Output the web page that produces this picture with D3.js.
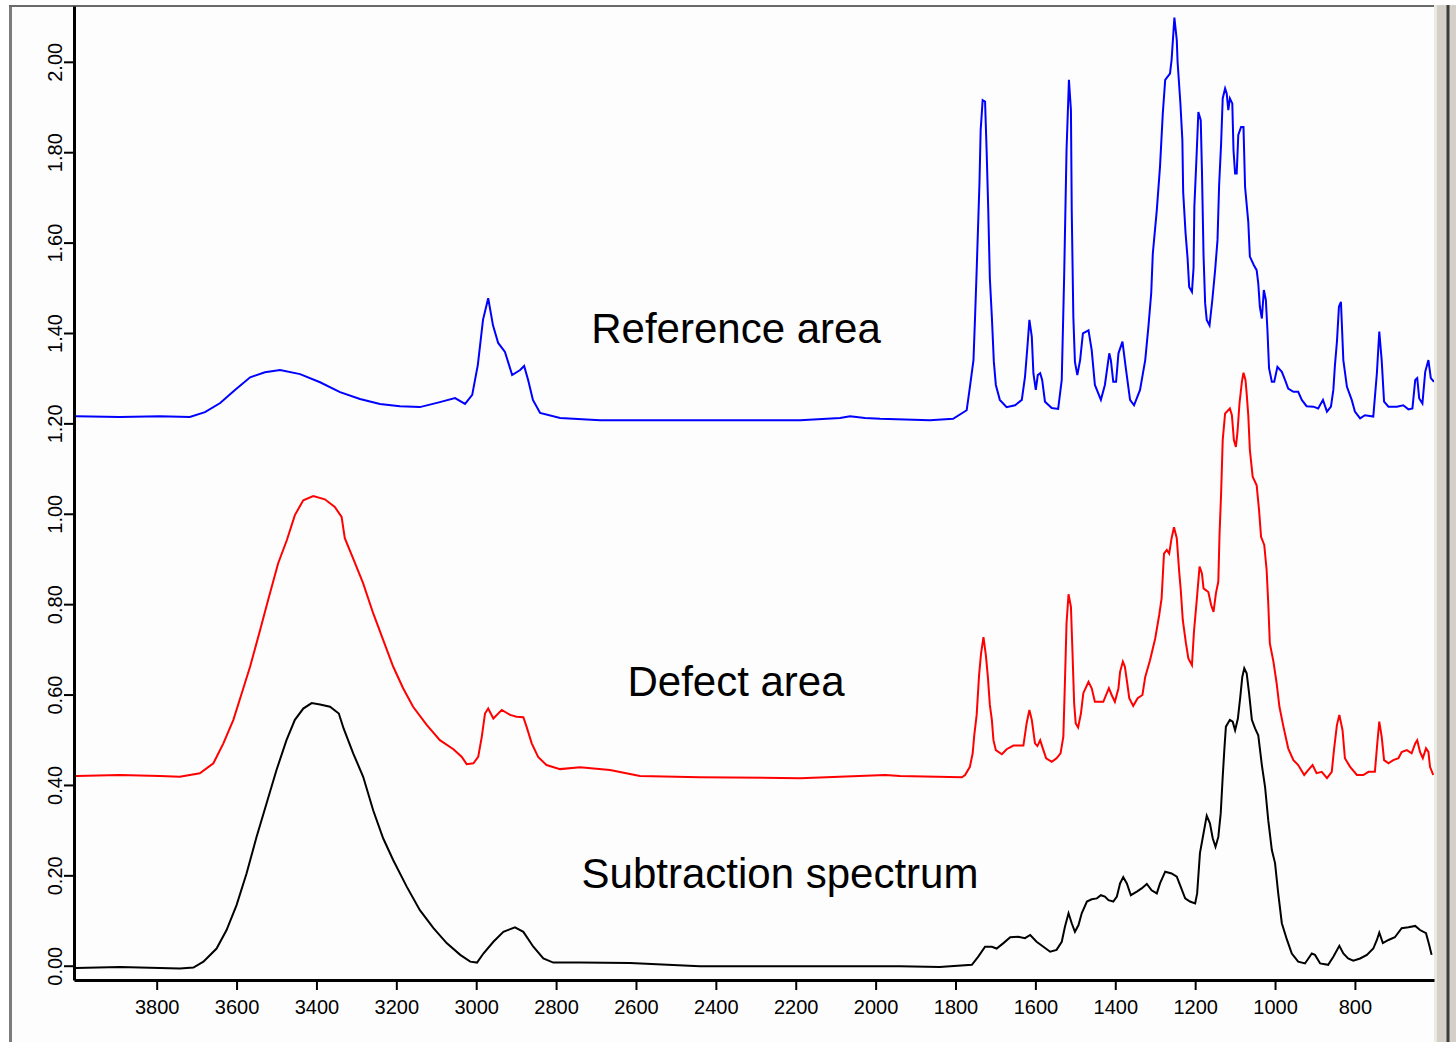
<!DOCTYPE html>
<html><head><meta charset="utf-8">
<script src="https://cdn.jsdelivr.net/npm/d3@7"></script>
<style>
body{margin:0;background:#fff;}
svg{display:block;}
text{font-family:"Liberation Sans",Arial,Helvetica,sans-serif;}
</style>
</head><body>
<svg id="chart" width="1456" height="1042"></svg>
<script>
// ---- Data: [wavenumber (cm-1), absorbance] ----
const referenceArea = [[4002,1.216],[3892,1.214],[3792,1.216],[3717,1.214],[3679,1.225],[3641,1.245],[3604,1.274],[3566,1.302],[3529,1.313],[3491,1.318],[3441,1.309],[3391,1.291],[3341,1.269],[3291,1.254],[3241,1.243],[3191,1.238],[3141,1.236],[3091,1.247],[3053,1.256],[3028,1.243],[3010,1.263],[2996,1.329],[2983,1.429],[2970,1.477],[2958,1.417],[2945,1.378],[2928,1.358],[2910,1.307],[2890,1.318],[2880,1.327],[2870,1.296],[2858,1.252],[2840,1.223],[2790,1.212],[2690,1.207],[2440,1.207],[2189,1.207],[2089,1.212],[2064,1.216],[2027,1.212],[1989,1.210],[1864,1.207],[1806,1.210],[1772,1.229],[1764,1.280],[1755,1.340],[1751,1.436],[1747,1.539],[1740,1.732],[1737,1.849],[1732,1.915],[1726,1.912],[1722,1.801],[1718,1.672],[1714,1.521],[1709,1.436],[1704,1.336],[1699,1.285],[1689,1.252],[1672,1.236],[1651,1.240],[1634,1.252],[1626,1.303],[1620,1.369],[1615,1.429],[1609,1.392],[1605,1.311],[1599,1.274],[1594,1.307],[1588,1.311],[1583,1.296],[1576,1.248],[1559,1.234],[1543,1.232],[1534,1.296],[1528,1.524],[1522,1.805],[1516,1.960],[1511,1.893],[1509,1.672],[1505,1.436],[1501,1.336],[1495,1.307],[1488,1.340],[1481,1.399],[1467,1.406],[1459,1.362],[1451,1.285],[1436,1.252],[1426,1.285],[1415,1.355],[1411,1.340],[1405,1.292],[1398,1.292],[1392,1.355],[1382,1.381],[1374,1.325],[1363,1.252],[1353,1.240],[1338,1.274],[1325,1.340],[1317,1.414],[1310,1.488],[1306,1.576],[1296,1.672],[1288,1.768],[1281,1.886],[1275,1.960],[1263,1.974],[1259,2.004],[1252,2.098],[1246,2.048],[1244,2.000],[1237,1.909],[1232,1.827],[1230,1.712],[1224,1.621],[1219,1.566],[1215,1.502],[1208,1.491],[1204,1.544],[1202,1.679],[1196,1.801],[1192,1.889],[1186,1.871],[1183,1.760],[1179,1.572],[1175,1.466],[1171,1.429],[1164,1.417],[1157,1.473],[1150,1.539],[1144,1.606],[1140,1.727],[1135,1.819],[1131,1.919],[1125,1.941],[1121,1.930],[1117,1.893],[1113,1.919],[1107,1.908],[1104,1.805],[1100,1.753],[1096,1.753],[1092,1.838],[1085,1.856],[1079,1.856],[1075,1.723],[1067,1.646],[1063,1.569],[1053,1.550],[1046,1.539],[1042,1.510],[1038,1.458],[1033,1.432],[1028,1.495],[1023,1.473],[1019,1.406],[1015,1.322],[1008,1.292],[1002,1.292],[994,1.325],[983,1.314],[975,1.296],[967,1.277],[954,1.270],[942,1.270],[933,1.252],[921,1.238],[904,1.237],[892,1.233],[880,1.252],[870,1.226],[860,1.237],[854,1.274],[850,1.329],[845,1.381],[840,1.458],[835,1.469],[829,1.340],[820,1.281],[808,1.252],[800,1.226],[787,1.211],[775,1.218],[754,1.215],[745,1.311],[739,1.403],[733,1.340],[727,1.248],[716,1.237],[695,1.237],[679,1.240],[666,1.231],[656,1.233],[649,1.296],[644,1.300],[639,1.255],[631,1.244],[624,1.314],[616,1.340],[610,1.300],[602,1.292]];

const defectArea = [[4002,0.420],[3892,0.422],[3792,0.420],[3742,0.418],[3692,0.426],[3658,0.448],[3633,0.492],[3608,0.544],[3587,0.603],[3566,0.662],[3541,0.743],[3521,0.809],[3496,0.890],[3474,0.942],[3454,0.997],[3433,1.030],[3408,1.039],[3379,1.032],[3354,1.015],[3337,0.993],[3329,0.946],[3308,0.901],[3283,0.846],[3258,0.780],[3233,0.721],[3208,0.662],[3183,0.614],[3158,0.573],[3124,0.533],[3091,0.499],[3057,0.479],[3036,0.462],[3024,0.446],[3007,0.448],[2995,0.462],[2986,0.507],[2978,0.558],[2970,0.569],[2957,0.547],[2936,0.566],[2915,0.555],[2899,0.551],[2882,0.550],[2874,0.529],[2861,0.492],[2845,0.462],[2824,0.444],[2790,0.435],[2740,0.439],[2665,0.433],[2590,0.420],[2440,0.417],[2189,0.415],[1976,0.422],[1939,0.420],[1784,0.417],[1776,0.422],[1764,0.440],[1757,0.470],[1753,0.510],[1747,0.555],[1741,0.643],[1736,0.691],[1730,0.727],[1724,0.687],[1719,0.639],[1714,0.577],[1709,0.544],[1705,0.499],[1699,0.477],[1684,0.468],[1672,0.479],[1655,0.487],[1630,0.487],[1622,0.536],[1615,0.566],[1609,0.544],[1601,0.492],[1595,0.486],[1588,0.499],[1580,0.477],[1573,0.459],[1559,0.451],[1547,0.459],[1537,0.470],[1530,0.507],[1526,0.628],[1522,0.758],[1517,0.822],[1511,0.794],[1507,0.691],[1503,0.581],[1499,0.536],[1493,0.527],[1486,0.558],[1480,0.603],[1467,0.628],[1459,0.614],[1451,0.584],[1430,0.584],[1416,0.614],[1409,0.599],[1401,0.584],[1392,0.614],[1388,0.650],[1381,0.673],[1376,0.662],[1370,0.625],[1365,0.592],[1355,0.575],[1344,0.592],[1332,0.599],[1325,0.639],[1313,0.676],[1300,0.724],[1290,0.776],[1284,0.813],[1278,0.912],[1271,0.920],[1265,0.912],[1259,0.946],[1253,0.970],[1246,0.946],[1240,0.872],[1236,0.831],[1231,0.765],[1223,0.713],[1217,0.680],[1208,0.665],[1203,0.739],[1196,0.809],[1189,0.883],[1183,0.868],[1179,0.835],[1167,0.827],[1160,0.798],[1154,0.783],[1148,0.824],[1142,0.850],[1139,0.953],[1135,1.045],[1131,1.163],[1125,1.222],[1113,1.233],[1108,1.218],[1103,1.163],[1098,1.148],[1094,1.181],[1089,1.244],[1083,1.292],[1079,1.312],[1074,1.296],[1071,1.266],[1067,1.218],[1063,1.141],[1056,1.082],[1046,1.063],[1040,1.008],[1035,0.949],[1027,0.931],[1021,0.875],[1017,0.802],[1013,0.713],[1004,0.673],[996,0.625],[989,0.573],[979,0.529],[967,0.481],[954,0.455],[942,0.444],[927,0.422],[917,0.433],[906,0.444],[896,0.426],[883,0.429],[870,0.415],[858,0.429],[852,0.481],[845,0.533],[839,0.555],[831,0.521],[825,0.459],[812,0.440],[795,0.422],[779,0.422],[766,0.429],[750,0.429],[744,0.492],[739,0.540],[733,0.507],[727,0.455],[716,0.448],[704,0.455],[691,0.459],[683,0.473],[670,0.477],[658,0.470],[649,0.492],[644,0.499],[637,0.473],[630,0.459],[622,0.481],[616,0.473],[612,0.440],[604,0.422]];

const subtractionSpectrum = [[4002,-0.005],[3892,-0.003],[3792,-0.005],[3742,-0.006],[3708,-0.004],[3683,0.009],[3650,0.038],[3625,0.079],[3600,0.134],[3575,0.204],[3550,0.285],[3525,0.359],[3500,0.433],[3475,0.499],[3454,0.544],[3433,0.569],[3412,0.581],[3391,0.578],[3366,0.573],[3344,0.558],[3332,0.525],[3308,0.470],[3283,0.418],[3258,0.344],[3233,0.282],[3208,0.234],[3174,0.175],[3141,0.123],[3107,0.083],[3074,0.050],[3040,0.024],[3015,0.009],[2998,0.007],[2982,0.027],[2957,0.053],[2932,0.075],[2903,0.085],[2882,0.075],[2857,0.042],[2832,0.016],[2807,0.007],[2740,0.007],[2615,0.006],[2440,-0.001],[2189,-0.001],[1939,-0.001],[1839,-0.003],[1822,-0.002],[1759,0.002],[1743,0.020],[1726,0.042],[1709,0.042],[1697,0.038],[1680,0.050],[1663,0.063],[1643,0.064],[1626,0.061],[1613,0.068],[1597,0.053],[1580,0.042],[1563,0.031],[1547,0.035],[1534,0.053],[1526,0.086],[1517,0.116],[1509,0.094],[1501,0.075],[1492,0.090],[1484,0.116],[1471,0.142],[1459,0.147],[1446,0.149],[1436,0.156],[1426,0.153],[1417,0.145],[1405,0.142],[1396,0.153],[1388,0.182],[1380,0.196],[1371,0.182],[1361,0.156],[1346,0.164],[1334,0.171],[1321,0.181],[1309,0.167],[1296,0.160],[1288,0.182],[1275,0.208],[1259,0.204],[1246,0.197],[1238,0.179],[1225,0.149],[1213,0.142],[1200,0.138],[1195,0.160],[1188,0.249],[1179,0.293],[1171,0.332],[1163,0.315],[1156,0.282],[1149,0.263],[1142,0.285],[1136,0.337],[1131,0.418],[1127,0.477],[1123,0.529],[1113,0.544],[1106,0.540],[1100,0.521],[1093,0.547],[1087,0.595],[1082,0.639],[1077,0.658],[1071,0.647],[1065,0.603],[1058,0.544],[1050,0.525],[1042,0.510],[1033,0.444],[1025,0.396],[1017,0.322],[1008,0.256],[1000,0.227],[992,0.160],[983,0.094],[970,0.057],[958,0.027],[942,0.009],[925,0.005],[908,0.027],[900,0.024],[887,0.005],[867,0.002],[854,0.020],[839,0.044],[829,0.027],[817,0.016],[804,0.011],[787,0.016],[770,0.024],[754,0.038],[745,0.057],[739,0.073],[730,0.050],[716,0.057],[700,0.063],[683,0.083],[666,0.085],[649,0.088],[637,0.079],[622,0.072],[614,0.046],[608,0.024]];

const xTickValues = [3800,3600,3400,3200,3000,2800,2600,2400,2200,2000,1800,1600,1400,1200,1000,800];
const yTickValues = [0.00,0.20,0.40,0.60,0.80,1.00,1.20,1.40,1.60,1.80,2.00];
const seriesNames = ["Reference area","Defect area","Subtraction spectrum"];
const seriesColors = ["#0000ff","#ff0000","#000000"];

// ---- Layout ----
const W = 1456, H = 1042;
const L = 74, R = 1434, T = 6, B = 980;
const svg = d3.select("#chart");

const x = d3.scaleLinear().domain([4007, 602]).range([L, R]);
const y = d3.scaleLinear().domain([-0.0316, 2.1235]).range([B, T]);

// window frame
svg.append("rect").attr("x",0).attr("y",0).attr("width",W).attr("height",H).attr("fill","#ffffff");
svg.append("rect").attr("x",12).attr("y",7).attr("width",R-12).attr("height",H-7).attr("fill","#fdfdfd");
svg.append("rect").attr("x",9).attr("y",5).attr("width",3).attr("height",H-5).attr("fill","#7c7c7c");
svg.append("rect").attr("x",9).attr("y",5).attr("width",R-9).attr("height",2).attr("fill","#6a6a6a");
svg.append("rect").attr("x",R).attr("y",5).attr("width",W-R).attr("height",H-5).attr("fill","#d4d0c8");
svg.append("rect").attr("x",R).attr("y",5).attr("width",3).attr("height",H-5).attr("fill","#ece9e3");
svg.append("rect").attr("x",1446.5).attr("y",5).attr("width",3).attr("height",H-5).attr("fill","#3c3c3c");

// clip for spectra
svg.append("defs").append("clipPath").attr("id","plotclip")
  .append("rect").attr("x",L).attr("y",T).attr("width",R-L).attr("height",B-T);

const line = d3.line().x(d => x(d[0])).y(d => y(d[1])).curve(d3.curveLinear);
const seriesData = [referenceArea, defectArea, subtractionSpectrum];

const g = svg.append("g").attr("clip-path","url(#plotclip)");
seriesData.forEach((s,i) => {
  g.append("path").datum(s).attr("d", line)
    .attr("fill","none").attr("stroke", seriesColors[i])
    .attr("stroke-width", 2).attr("stroke-linejoin","miter");
});

// x axis
const xAxis = d3.axisBottom(x).tickValues(xTickValues).tickFormat(d3.format("d"))
  .tickSize(10).tickSizeOuter(0).tickPadding(10);
const gx = svg.append("g").attr("transform",`translate(0,${B})`).call(xAxis);
gx.select(".domain").attr("stroke","#000").attr("stroke-width",3);
gx.selectAll(".tick line").attr("stroke","#000").attr("stroke-width",2);
gx.selectAll(".tick text").attr("fill","#000").attr("font-size",20)
  .attr("font-family",'"Liberation Sans",Arial,sans-serif');

// y axis
const yAxis = d3.axisLeft(y).tickValues(yTickValues).tickFormat(d3.format(".2f"))
  .tickSize(10).tickSizeOuter(0);
const gy = svg.append("g").attr("transform",`translate(${L},0)`).call(yAxis);
gy.select(".domain").attr("stroke","#000").attr("stroke-width",3);
gy.selectAll(".tick line").attr("stroke","#000").attr("stroke-width",2);
gy.selectAll(".tick text").attr("fill","#000").attr("font-size",20)
  .attr("font-family",'"Liberation Sans",Arial,sans-serif')
  .attr("x",0).attr("y",0).attr("dy",0)
  .attr("text-anchor","middle")
  .attr("transform","translate(-12,0) rotate(-90)");

// series annotations
const labelPos = [[736,343],[736,696],[780,888]];
seriesNames.forEach((name,i) => {
  svg.append("text").attr("x",labelPos[i][0]).attr("y",labelPos[i][1])
    .attr("text-anchor","middle").attr("font-size",42).attr("fill","#000")
    .text(name);
});
</script>
</body></html>
